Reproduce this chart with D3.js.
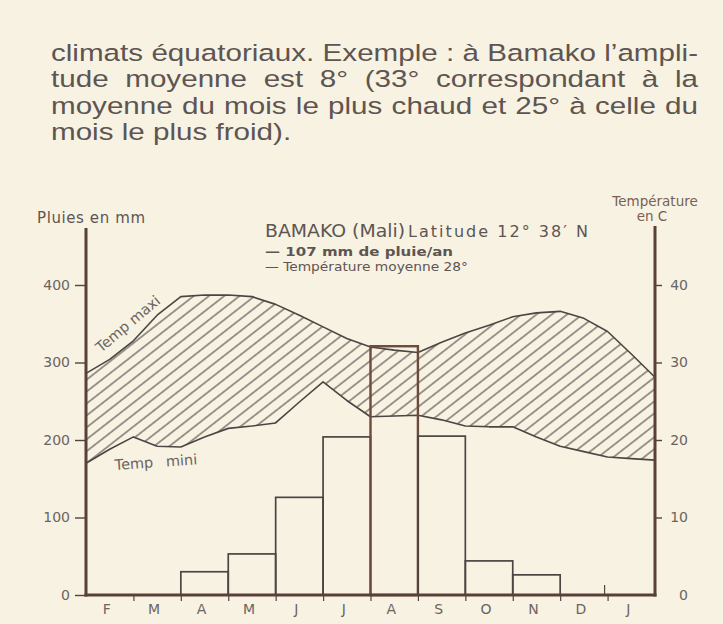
<!DOCTYPE html>
<html><head><meta charset="utf-8">
<script src="https://cdn.jsdelivr.net/npm/d3@7/dist/d3.min.js"></script>
<style>
html,body{margin:0;padding:0;background:#f7f2e2;}
svg{display:block;}
</style></head><body>
<svg id="c" width="723" height="624"></svg>
<script>
// ---- data ----
const months = ["F","M","A","M","J","J","A","S","O","N","D","J"];
const rainfall = [0, 0, 30, 53, 126, 204, 321, 205, 44, 26, 0, 0];           // mm per month
// temperatures read every half month, from start of F to end of J (25 points)
const tempMax = [28.6,30.4,32.8,36.1,38.5,38.7,38.7,38.5,37.5,36.1,34.6,33.1,32.0,31.6,31.3,32.6,33.8,34.8,35.9,36.4,36.6,35.7,34.0,31.1,28.1];
const tempMin = [17.0,18.8,20.4,19.2,19.1,20.4,21.5,21.8,22.2,24.9,27.5,25.1,23.0,23.1,23.2,22.6,21.8,21.7,21.7,20.4,19.2,18.5,17.8,17.6,17.4];
const rainTicks = [0, 100, 200, 300, 400];
const tempTicks = [0, 10, 20, 30, 40];
const paragraph = [
  "climats équatoriaux. Exemple : à Bamako l\u2019ampli-",
  "tude moyenne est 8° (33° correspondant à la",
  "moyenne du mois le plus chaud et 25° à celle du",
  "mois le plus froid)."
];
const titleText = "BAMAKO (Mali)";
const latText = "Latitude 12° 38\u2032 N";
const legendRain = "\u2014 107 mm de pluie/an";
const legendTemp = "\u2014 Température moyenne 28°";

// ---- setup ----
const svg = d3.select("#c");
const ink = "#4b4544", axisInk = "#5a4039", textInk = "#5e5552", lightInk = "#6c6461";
const L = 86, R = 655, B = 595, T400 = 285;

const xBand = d3.scaleBand().domain(d3.range(12)).range([L, R]).padding(0);
const xPos = d3.scaleLinear().domain([0, 12]).range([L, R]);
const yRain = d3.scaleLinear().domain([0, 400]).range([B, T400]);
const yTemp = d3.scaleLinear().domain([0, 40]).range([B, T400]);

// hatch pattern
const defs = svg.append("defs");
const pat = defs.append("pattern").attr("id", "hatch")
  .attr("patternUnits", "userSpaceOnUse").attr("width", 9.4).attr("height", 9.4)
  .attr("patternTransform", "rotate(-38)");
pat.append("line").attr("x1", 0).attr("x2", 9.4).attr("y1", 4.7).attr("y2", 4.7)
  .attr("stroke", "#55504e").attr("stroke-width", 1.15);

// paragraph text (wide grotesque, justified)
const para = svg.append("g").attr("font-family", "'Liberation Sans', Arial, sans-serif")
  .attr("font-size", 23.5).attr("fill", textInk);
const pLeft = 51, pRight = 698, pBase = 61, pLead = 26.4, stretch = 1.26;
paragraph.forEach((line, i) => {
  const t = para.append("text").attr("x", 0).attr("y", 0)
    .attr("transform", `translate(${pLeft},${pBase + i * pLead}) scale(${stretch},1)`).text(line);
  if (i < paragraph.length - 1) {
    const w = t.node().getComputedTextLength();
    const n = (line.match(/ /g) || []).length;
    t.attr("word-spacing", ((pRight - pLeft) / stretch - w) / n);
  }
});

// temperature band (hatched)
const pts = tempMax.map((v, i) => ({ p: i / 2, hi: v, lo: tempMin[i] }));
svg.append("path").datum(pts)
  .attr("d", d3.area().x(d => xPos(d.p)).y0(d => yTemp(d.lo)).y1(d => yTemp(d.hi)))
  .attr("fill", "url(#hatch)");
svg.append("path").datum(pts)
  .attr("d", d3.line().x(d => xPos(d.p)).y(d => yTemp(d.hi)))
  .attr("fill", "none").attr("stroke", ink).attr("stroke-width", 1.6).attr("stroke-linejoin", "round");
svg.append("path").datum(pts)
  .attr("d", d3.line().x(d => xPos(d.p)).y(d => yTemp(d.lo)))
  .attr("fill", "none").attr("stroke", ink).attr("stroke-width", 1.6).attr("stroke-linejoin", "round");

// rainfall bars
const maxRain = d3.max(rainfall);
svg.append("g").selectAll("rect").data(rainfall.map((v, i) => ({ v, i })).filter(d => d.v > 0))
  .join("rect")
  .attr("x", d => xBand(d.i)).attr("width", xBand.bandwidth())
  .attr("y", d => yRain(d.v)).attr("height", d => yRain(0) - yRain(d.v))
  .attr("fill", "none")
  .attr("stroke", d => d.v === maxRain ? "#6e4a3e" : ink)
  .attr("stroke-width", d => d.v === maxRain ? 2.4 : 1.7);

// axes lines
svg.append("line").attr("x1", L).attr("x2", L).attr("y1", 228).attr("y2", B + 1.5)
  .attr("stroke", axisInk).attr("stroke-width", 3);
svg.append("line").attr("x1", R).attr("x2", R).attr("y1", 226).attr("y2", B + 1.5)
  .attr("stroke", axisInk).attr("stroke-width", 3);
svg.append("line").attr("x1", L - 1.5).attr("x2", R + 1.5).attr("y1", B).attr("y2", B)
  .attr("stroke", axisInk).attr("stroke-width", 3);

// left axis
const gl = svg.append("g").attr("transform", `translate(${L},0)`)
  .call(d3.axisLeft(yRain).tickValues(rainTicks).tickSize(11).tickPadding(5));
gl.select(".domain").remove();
gl.selectAll(".tick line").attr("stroke", axisInk).attr("stroke-width", 1.4);
gl.selectAll(".tick text").attr("font-family", "'DejaVu Sans', sans-serif").attr("font-size", 14).attr("fill", lightInk);

// right axis
const gr = svg.append("g").attr("transform", `translate(${R},0)`)
  .call(d3.axisRight(yTemp).tickValues(tempTicks).tickSize(7).tickPadding(5));
gr.select(".domain").remove();
gr.selectAll(".tick line").attr("stroke", axisInk).attr("stroke-width", 1.4);
gr.selectAll(".tick text").attr("font-family", "'DejaVu Sans', sans-serif").attr("font-size", 14)
  .attr("fill", lightInk).attr("text-anchor", "end").attr("x", 33);
gr.selectAll(".tick").filter(d => d === 0).select("line").remove();

// bottom axis ticks + month labels
const gb = svg.append("g").attr("transform", `translate(0,${B})`)
  .call(d3.axisBottom(xPos).tickValues(d3.range(1, 12)).tickSize(6).tickFormat(""));
gb.select(".domain").remove();
gb.selectAll(".tick line").attr("stroke", ink).attr("stroke-width", 1.2);
svg.append("line").attr("x1", xPos(11) - 3).attr("x2", xPos(11) - 3).attr("y1", B - 10).attr("y2", B)
  .attr("stroke", ink).attr("stroke-width", 1.2);
svg.append("g").selectAll("text").data(months).join("text")
  .attr("x", (d, i) => xBand(i) + xBand.bandwidth() / 2 - 3).attr("y", 614)
  .attr("text-anchor", "middle").attr("font-family", "'DejaVu Sans', sans-serif")
  .attr("font-size", 14).attr("fill", lightInk).text(d => d);

// axis titles
const sans = "'DejaVu Sans', sans-serif";
svg.append("text").attr("x", 37).attr("y", 223).attr("font-family", sans).attr("font-size", 15)
  .attr("fill", textInk).attr("textLength", 108).text("Pluies en mm");
svg.append("text").attr("x", 655).attr("y", 206).attr("text-anchor", "middle").attr("font-family", sans)
  .attr("font-size", 13.5).attr("fill", "#7a5f55").text("Température");
svg.append("text").attr("x", 652).attr("y", 221).attr("text-anchor", "middle").attr("font-family", sans)
  .attr("font-size", 13.5).attr("fill", "#7a5f55").text("en C");

// title + legend
svg.append("text").attr("x", 265).attr("y", 237).attr("font-family", sans).attr("font-size", 17.5)
  .attr("fill", textInk).attr("textLength", 140).attr("lengthAdjust", "spacingAndGlyphs").text(titleText);
svg.append("text").attr("x", 408).attr("y", 237).attr("font-family", sans).attr("font-size", 16)
  .attr("fill", textInk).attr("textLength", 180).text(latText);
svg.append("text").attr("x", 265).attr("y", 256).attr("font-family", sans).attr("font-size", 13)
  .attr("font-weight", "bold").attr("fill", textInk).attr("textLength", 188).attr("lengthAdjust", "spacingAndGlyphs").text(legendRain);
svg.append("text").attr("x", 265).attr("y", 271).attr("font-family", sans).attr("font-size", 13)
  .attr("fill", textInk).attr("textLength", 203).attr("lengthAdjust", "spacingAndGlyphs").text(legendTemp);

// curve labels
svg.append("text").attr("transform", `translate(101,353) rotate(-40)`).attr("font-family", sans)
  .attr("font-size", 14.5).attr("fill", lightInk).text("Temp maxi");
svg.append("text").attr("transform", `translate(115,470) rotate(-4)`).attr("font-family", sans)
  .attr("font-size", 14.5).attr("fill", lightInk).attr("word-spacing", 8).text("Temp mini");
</script>
</body></html>
